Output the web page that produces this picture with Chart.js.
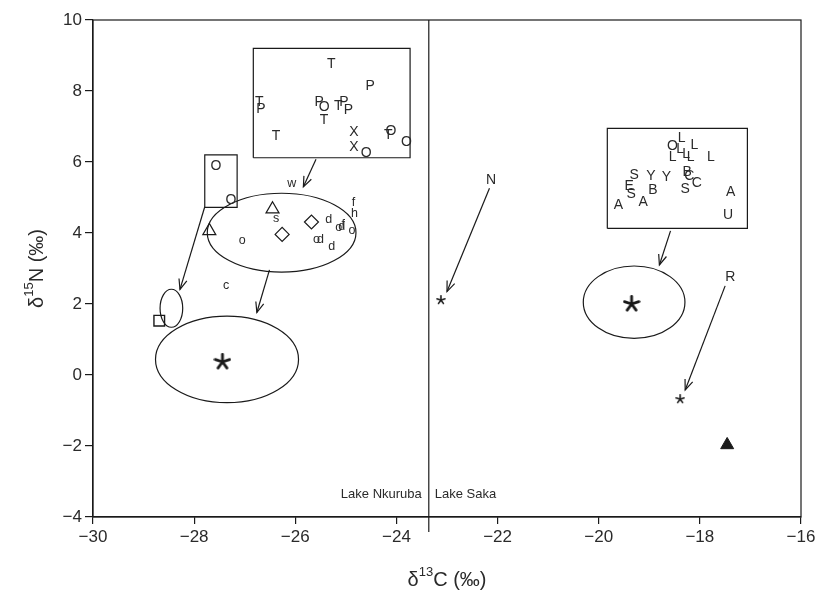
<!DOCTYPE html>
<html>
<head>
<meta charset="utf-8">
<script src="https://cdn.jsdelivr.net/npm/chart.js@4"></script>
<style>
html,body{margin:0;padding:0;background:#fff;}
#c{display:block;}
</style>
</head>
<body>
<canvas id="c" width="820" height="599"></canvas>
<script>
// ---------- data ----------
const xTicks = [-30, -28, -26, -24, -22, -20, -18, -16];
const yTicks = [-4, -2, 0, 2, 4, 6, 8, 10];

// Lake Nkuruba inset (capital letters)
const nkInsetLetters = ['T','P','T','P','P','O','T','P','P','T','T','X','X','O','O','T','O'];
const nkInsetX = [-25.29,-24.52,-26.71,-26.68,-25.53,-25.43,-25.15,-25.04,-24.95,-25.43,-26.38,-24.84,-24.84,-24.60,-24.11,-24.16,-23.80];
const nkInsetY = [8.76,8.14,7.70,7.48,7.68,7.54,7.56,7.69,7.45,7.18,6.73,6.85,6.41,6.26,6.88,6.76,6.55];

// Lake Nkuruba small box letters
const nkBoxLetters = ['O','O'];
const nkBoxX = [-27.57,-27.27];
const nkBoxY = [5.89,4.93];

// Lake Nkuruba lowercase letters
const nkLowLetters = ['w','s','o','d','f','h','o','d','f','o','o','d','d','c'];
const nkLowX = [-26.07,-26.38,-27.05,-25.34,-24.85,-24.83,-25.14,-25.08,-25.05,-24.88,-25.58,-25.50,-25.28,-27.37];
const nkLowY = [5.40,4.41,3.78,4.39,4.85,4.55,4.15,4.19,4.23,4.08,3.82,3.82,3.61,2.51];

// Lake Saka letters
const sakaLetters = ['O','L','L','L','L','L','L','L','S','Y','Y','B','C','C','E','S','B','S','A','A','A','U','N','R'];
const sakaX = [-18.54,-18.36,-18.39,-18.27,-18.18,-18.54,-18.11,-17.78,-19.30,-18.97,-18.66,-18.25,-18.21,-18.06,-19.40,-19.36,-18.93,-18.29,-17.39,-19.61,-19.12,-17.44,-22.13,-17.40];
const sakaY = [6.46,6.67,6.37,6.22,6.15,6.15,6.48,6.15,5.63,5.61,5.56,5.71,5.61,5.40,5.31,5.09,5.21,5.24,5.16,4.79,4.86,4.49,5.49,2.75];

// symbols
const openTriX = [-26.45,-27.70];
const openTriY = [4.67,4.06];
const diamondX = [-25.68,-26.26];
const diamondY = [4.31,3.96];
const squareX = [-28.69];
const squareY = [1.53];
const filledTriX = [-17.46];
const filledTriY = [-1.97];
const bigStarX = [-27.44,-19.35];
const bigStarY = [0.37,2.00];
const smallStarX = [-23.12,-18.39];
const smallStarY = [2.11,-0.68];

// boxes: [xmin, xmax, ymin, ymax]
const nkInsetBox = [-26.83,-23.73,6.12,9.20];
const nkSmallBox = [-27.79,-27.15,4.72,6.20];
const sakaBox = [-19.83,-17.06,4.13,6.95];

// ellipses
const ellipseCx = [-26.27,-28.45,-27.35,-19.30];
const ellipseCy = [4.01,1.88,0.44,2.05];
const ellipseRx = [1.47,0.224,1.414,1.005];
const ellipseRy = [1.11,0.535,1.22,1.02];

// arrows: start -> end
const arrowX0 = [-25.59,-27.79,-26.51,-22.16,-18.58,-17.50];
const arrowY0 = [6.08,4.74,2.96,5.26,4.06,2.51];
const arrowX1 = [-25.84,-28.28,-26.76,-23.00,-18.80,-18.29];
const arrowY1 = [5.30,2.41,1.76,2.35,3.10,-0.42];

// lake divider
const dividerX = -23.36;
const dividerY = [-4.42, 10];
const lakeNames = ['Lake Nkuruba','Lake Saka'];
const lakeLabelY = -3.35;

// ---------- helpers ----------
const INK = '#1a1a1a';
const TXT = '#2a2a2a';
const FAM = '"Liberation Sans", Arial, Helvetica, sans-serif';

function pts(xs, ys){ return xs.map((x,i)=>({x:x, y:ys[i]})); }
function boxPts(b){ return [{x:b[0],y:b[2]},{x:b[1],y:b[2]},{x:b[1],y:b[3]},{x:b[0],y:b[3]},{x:b[0],y:b[2]}]; }
function fmt(v){ return v < 0 ? '\u2212' + Math.abs(v) : String(v); }

function makeAsterisk(size, lw){
  const c = document.createElement('canvas');
  c.width = size; c.height = size;
  const g = c.getContext('2d');
  g.strokeStyle = INK; g.lineWidth = lw; g.lineCap = 'round';
  const r = size/2 - lw/2;
  for (let k=0;k<5;k++){
    const a = -Math.PI/2 + k*2*Math.PI/5;
    g.beginPath();
    g.moveTo(size/2, size/2);
    g.lineTo(size/2 + r*Math.cos(a), size/2 + r*Math.sin(a));
    g.stroke();
  }
  return c;
}
const bigStar = makeAsterisk(18, 2.8);
const smallStar = makeAsterisk(10, 1.6);

const datasets = [];
// divider
datasets.push({data:[{x:dividerX,y:dividerY[0]},{x:dividerX,y:dividerY[1]}], showLine:true, borderColor:INK, borderWidth:1.2, pointRadius:0, clip:false});
// boxes
[nkInsetBox, nkSmallBox, sakaBox].forEach(b=>{
  datasets.push({data:boxPts(b), showLine:true, borderColor:INK, borderWidth:1.2, pointRadius:0});
});
// arrows
arrowX0.forEach((x0,i)=>{
  datasets.push({data:[{x:x0,y:arrowY0[i]},{x:arrowX1[i],y:arrowY1[i]}], showLine:true, borderColor:INK, borderWidth:1.2, pointRadius:0, isArrow:true});
});
// letters
datasets.push({data:pts(nkInsetX,nkInsetY), pointRadius:0, textLabels:nkInsetLetters, textFont:'14px '+FAM});
datasets.push({data:pts(nkBoxX,nkBoxY), pointRadius:0, textLabels:nkBoxLetters, textFont:'14px '+FAM});
datasets.push({data:pts(nkLowX,nkLowY), pointRadius:0, textLabels:nkLowLetters, textFont:'12.5px '+FAM});
datasets.push({data:pts(sakaX,sakaY), pointRadius:0, textLabels:sakaLetters, textFont:'14px '+FAM});
// symbols
datasets.push({data:pts(openTriX,openTriY), pointStyle:'triangle', pointRadius:7.5, borderColor:INK, backgroundColor:'rgba(0,0,0,0)', borderWidth:1.2});
datasets.push({data:pts(diamondX,diamondY), pointStyle:'rectRot', pointRadius:7, borderColor:INK, backgroundColor:'rgba(0,0,0,0)', borderWidth:1.2});
datasets.push({data:pts(squareX,squareY), pointStyle:'rect', pointRadius:7.5, borderColor:INK, backgroundColor:'rgba(0,0,0,0)', borderWidth:1.4});
datasets.push({data:pts(filledTriX,filledTriY), pointStyle:'triangle', pointRadius:7.5, borderColor:INK, backgroundColor:INK, borderWidth:1});
datasets.push({data:pts(bigStarX,bigStarY), pointStyle:bigStar, pointRadius:9});
datasets.push({data:pts(smallStarX,smallStarY), pointStyle:smallStar, pointRadius:5});

// ---------- plugins ----------
const bgPlugin = {
  id:'bg',
  beforeDraw(chart){ const c=chart.ctx; c.save(); c.fillStyle='#fff'; c.fillRect(0,0,chart.width,chart.height); c.restore(); }
};

const ellipsePlugin = {
  id:'ellipses',
  beforeDatasetsDraw(chart){
    const sx = chart.scales.x, sy = chart.scales.y, c = chart.ctx;
    c.save(); c.strokeStyle = INK; c.lineWidth = 1.2;
    ellipseCx.forEach((cx,i)=>{
      const px = sx.getPixelForValue(cx), py = sy.getPixelForValue(ellipseCy[i]);
      const rx = Math.abs(sx.getPixelForValue(cx+ellipseRx[i]) - px);
      const ry = Math.abs(sy.getPixelForValue(ellipseCy[i]+ellipseRy[i]) - py);
      c.beginPath(); c.ellipse(px,py,rx,ry,0,0,Math.PI*2); c.stroke();
    });
    c.restore();
  }
};

const overlayPlugin = {
  id:'overlay',
  afterDatasetsDraw(chart){
    const c = chart.ctx, sx = chart.scales.x, sy = chart.scales.y;
    chart.data.datasets.forEach((ds,i)=>{
      const meta = chart.getDatasetMeta(i);
      if (ds.textLabels){
        c.save(); c.font = ds.textFont; c.fillStyle = TXT; c.textAlign='center'; c.textBaseline='middle';
        meta.data.forEach((el,j)=>c.fillText(ds.textLabels[j], el.x, el.y));
        c.restore();
      }
      if (ds.isArrow){
        const p0 = meta.data[0], p1 = meta.data[1];
        const ang = Math.atan2(p1.y-p0.y, p1.x-p0.x);
        const L = 11, w = 0.38;
        c.save(); c.strokeStyle = INK; c.lineWidth = 1.2;
        c.beginPath();
        c.moveTo(p1.x - L*Math.cos(ang-w), p1.y - L*Math.sin(ang-w));
        c.lineTo(p1.x, p1.y);
        c.lineTo(p1.x - L*Math.cos(ang+w), p1.y - L*Math.sin(ang+w));
        c.stroke(); c.restore();
      }
    });
    const dx = sx.getPixelForValue(dividerX), ly = sy.getPixelForValue(lakeLabelY);
    c.save(); c.font = '13px '+FAM; c.fillStyle = TXT; c.textBaseline='middle';
    c.textAlign='right'; c.fillText(lakeNames[0], dx-7, ly);
    c.textAlign='left'; c.fillText(lakeNames[1], dx+6, ly);
    c.restore();
  },
  afterDraw(chart){
    const c = chart.ctx, a = chart.chartArea;
    c.save(); c.strokeStyle = INK; c.lineWidth = 1.2;
    c.strokeRect(a.left, a.top, a.right-a.left, a.bottom-a.top);
    c.restore();
    function drawSup(parts, cx, cy){
      let w = 0;
      parts.forEach(p=>{ c.font = p.s+'px '+FAM; p.w = c.measureText(p.t).width; w += p.w; });
      let x = cx - w/2;
      parts.forEach(p=>{ c.font = p.s+'px '+FAM; c.fillText(p.t, x, cy + (p.dy||0)); x += p.w; });
    }
    c.save(); c.fillStyle = TXT; c.textAlign='left'; c.textBaseline='middle';
    drawSup([{t:'\u03b4',s:20},{t:'13',s:13,dy:-8},{t:'C (\u2030)',s:20}], (a.left+a.right)/2, 580);
    c.translate(37, (a.top+a.bottom)/2); c.rotate(-Math.PI/2);
    drawSup([{t:'\u03b4',s:20},{t:'15',s:13,dy:-8},{t:'N (\u2030)',s:20}], 0, 0);
    c.restore();
  }
};

// ---------- chart ----------
new Chart(document.getElementById('c'), {
  type:'scatter',
  data:{datasets:datasets},
  options:{
    responsive:false,
    animation:false,
    events:[],
    layout:{padding:{top:20,right:19,left:0,bottom:0}},
    plugins:{legend:{display:false}, tooltip:{enabled:false}},
    scales:{
      x:{
        type:'linear', min:xTicks[0], max:xTicks[xTicks.length-1],
        afterBuildTicks(s){ s.ticks = xTicks.map(v=>({value:v})); },
        ticks:{font:{size:17,family:FAM}, color:TXT, padding:3, maxRotation:0, autoSkip:false, callback:v=>fmt(v)},
        grid:{drawOnChartArea:false, tickLength:7, color:INK, lineWidth:1.2},
        border:{color:INK, width:1.2},
        afterFit(s){ s.height = 82; }
      },
      y:{
        type:'linear', min:yTicks[0], max:yTicks[yTicks.length-1],
        afterBuildTicks(s){ s.ticks = yTicks.map(v=>({value:v})); },
        ticks:{font:{size:17,family:FAM}, color:TXT, padding:3, autoSkip:false, callback:v=>fmt(v)},
        grid:{drawOnChartArea:false, tickLength:8, color:INK, lineWidth:1.2},
        border:{color:INK, width:1.2},
        afterFit(s){ s.width = 93; }
      }
    }
  },
  plugins:[bgPlugin, ellipsePlugin, overlayPlugin]
});
</script>
</body>
</html>
